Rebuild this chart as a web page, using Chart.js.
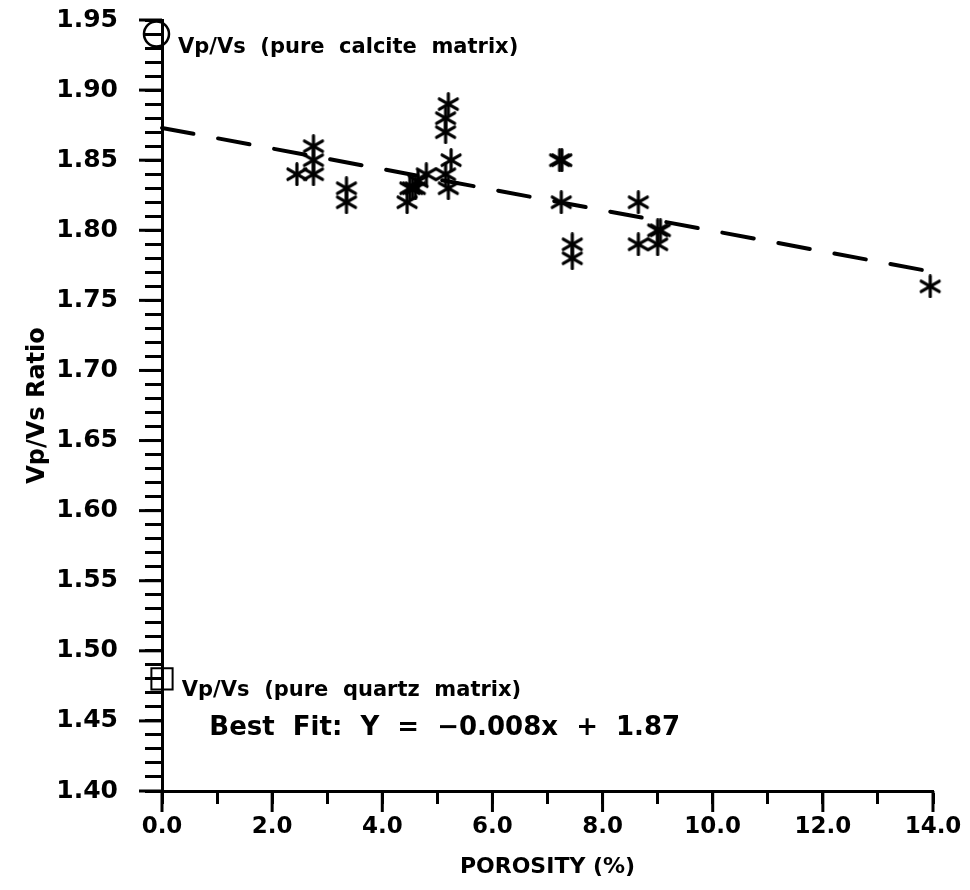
<!DOCTYPE html>
<html><head><meta charset="utf-8">
<script src="https://cdn.jsdelivr.net/npm/chart.js@4.4.1/dist/chart.umd.min.js"></script>
<style>html,body{margin:0;padding:0;background:#fff;}#wrap{width:970px;height:890px;}</style>
</head><body><div id="wrap"><canvas id="c" width="970" height="890"></canvas></div>
<script>
// ---- data ----
const porosity = [2.45, 2.75, 2.75, 2.75, 3.35, 3.35, 4.45, 4.5, 4.55, 4.6, 4.65, 4.8,
                  5.2, 5.15, 5.15, 5.25, 5.15, 5.2, 7.22, 7.26, 7.25, 7.45, 7.45,
                  8.65, 8.65, 9.0, 9.05, 9.0, 13.95];
const vpvs     = [1.84, 1.86, 1.85, 1.84, 1.83, 1.82, 1.82, 1.83, 1.83, 1.83, 1.835, 1.84,
                  1.89, 1.88, 1.87, 1.85, 1.84, 1.83, 1.85, 1.85, 1.82, 1.79, 1.78,
                  1.82, 1.79, 1.80, 1.80, 1.79, 1.76];
const fitX = [0.0, 13.9, 13.98];
const fitY = [1.873, 1.771, 1.764];
const calciteX = [-0.1], calciteY = [1.94];
const quartzX = [0.0],  quartzY = [1.48];
const calciteLabel = 'Vp/Vs  (pure  calcite  matrix)';
const quartzLabel  = 'Vp/Vs  (pure  quartz  matrix)';
const fitLabel     = 'Best  Fit:  Y  =  \u22120.008x  +  1.87';
const xTitle = 'POROSITY (%)';
const yTitle = 'Vp/Vs Ratio';
const xMin = 0, xMax = 14, xStep = 1;
const yMin = 1.40, yMax = 1.95, yStep = 0.01;

const FONT = '"DejaVu Sans", "Liberation Sans", sans-serif';

function makeAsterisk(size, lw) {
  const c = document.createElement('canvas');
  c.width = c.height = size;
  const g = c.getContext('2d');
  g.strokeStyle = '#000'; g.lineWidth = lw; g.lineCap = 'round';
  const cx = size / 2, r = size / 2 - lw / 2;
  for (const a of [90, 30, 150]) {
    const t = a * Math.PI / 180;
    g.beginPath();
    g.moveTo(cx - r * Math.cos(t), cx - r * Math.sin(t));
    g.lineTo(cx + r * Math.cos(t), cx + r * Math.sin(t));
    g.stroke();
  }
  return c;
}
const star = makeAsterisk(24, 3.2);

const zip = (xs, ys) => xs.map((x, i) => ({x, y: ys[i]}));
const isMajorY = v => Math.round(v * 100) % 5 === 0;
const isMajorX = v => Math.round(v) % 2 === 0;

const extrasPlugin = {
  id: 'extras',
  afterDraw(chart) {
    const {ctx, scales: {x, y}, chartArea: a} = chart;
    ctx.save();
    ctx.strokeStyle = '#000';
    ctx.lineWidth = 3;
    // longer major ticks
    x.ticks.forEach(t => {
      if (!isMajorX(t.value)) return;
      const px = x.getPixelForValue(t.value);
      ctx.beginPath(); ctx.moveTo(px, a.bottom); ctx.lineTo(px, a.bottom + 21); ctx.stroke();
    });
    y.ticks.forEach(t => {
      if (!isMajorY(t.value)) return;
      const py = y.getPixelForValue(t.value);
      ctx.beginPath(); ctx.moveTo(a.left, py); ctx.lineTo(a.left - 23, py); ctx.stroke();
    });
    ctx.fillStyle = '#000';
    ctx.textBaseline = 'middle';
    ctx.textAlign = 'left';
    ctx.font = 'bold 21px ' + FONT;
    ctx.fillText(calciteLabel, x.getPixelForValue(0.29), y.getPixelForValue(1.930));
    ctx.fillText(quartzLabel, x.getPixelForValue(0.36), y.getPixelForValue(1.472));
    ctx.font = 'bold 26px ' + FONT;
    ctx.fillText(fitLabel, x.getPixelForValue(0.86), y.getPixelForValue(1.445));
    ctx.restore();
  }
};

new Chart(document.getElementById('c'), {
  type: 'scatter',
  data: {
    datasets: [
      { data: zip(fitX, fitY), showLine: true, borderColor: '#000', borderWidth: 4,
        borderDash: [32, 25], pointRadius: 0, clip: false, borderCapStyle: 'round' },
      { data: zip(porosity, vpvs), pointStyle: star, pointRadius: 12, clip: false },
      { data: zip(calciteX, calciteY), pointStyle: 'circle', pointRadius: 12.5,
        borderColor: '#000', borderWidth: 2.5, backgroundColor: 'rgba(0,0,0,0)', clip: false },
      { data: zip(quartzX, quartzY), pointStyle: 'rect', pointRadius: 15,
        borderColor: '#000', borderWidth: 2, backgroundColor: 'rgba(0,0,0,0)', clip: false }
    ]
  },
  options: {
    responsive: false, animation: false, devicePixelRatio: 1,
    layout: { padding: { top: 20, right: 37, bottom: 0, left: 0 } },
    plugins: { legend: { display: false }, tooltip: { enabled: false } },
    scales: {
      x: {
        type: 'linear', min: xMin, max: xMax,
        afterFit: s => { s.height = 99; s.paddingLeft = 0; s.paddingRight = 0; },
        ticks: { stepSize: xStep, autoSkip: false, maxRotation: 0, color: '#000', padding: 9,
                 font: { family: FONT, size: 23, weight: 'bold' },
                 callback: v => isMajorX(v) ? v.toFixed(1) : '' },
        grid: { drawOnChartArea: false, drawTicks: true, tickLength: 13, tickWidth: 3, tickColor: '#000' },
        border: { display: true, color: '#000', width: 3 },
        title: { display: true, text: xTitle, color: '#000', padding: { top: 0, bottom: 10 },
                 font: { family: FONT, size: 22, weight: 'bold' } }
      },
      y: {
        type: 'linear', min: yMin, max: yMax,
        afterFit: s => { s.width = 162; s.paddingTop = 0; s.paddingBottom = 0; },
        ticks: { stepSize: yStep, autoSkip: false, color: '#000', padding: 27,
                 font: { family: FONT, size: 25, weight: 'bold' },
                 callback: v => isMajorY(v) ? v.toFixed(2) : '' },
        grid: { drawOnChartArea: false, drawTicks: true, tickLength: 17, tickWidth: 3, tickColor: '#000' },
        border: { display: true, color: '#000', width: 3 },
        title: { display: true, text: yTitle, color: '#000', padding: { top: 23 },
                 font: { family: FONT, size: 24, weight: 'bold' } }
      }
    }
  },
  plugins: [extrasPlugin]
});
</script></body></html>
